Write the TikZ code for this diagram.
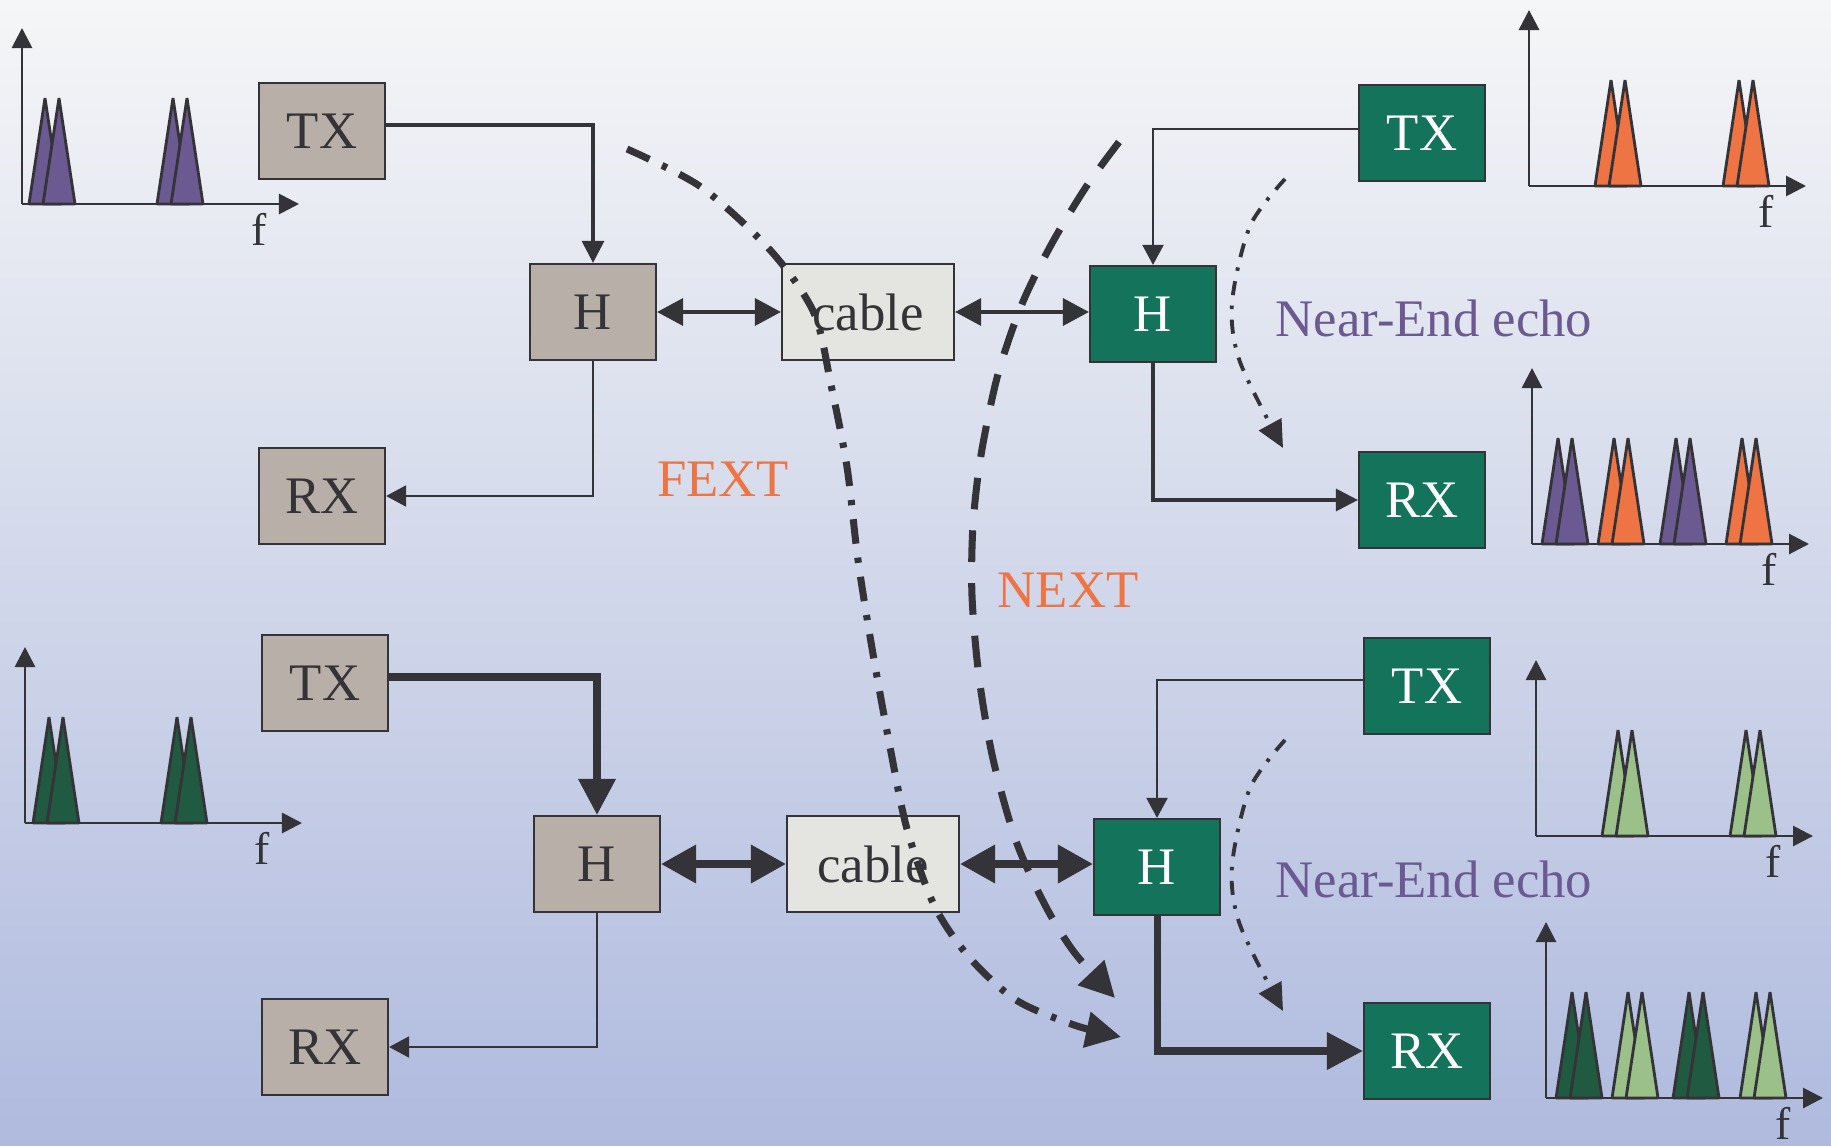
\documentclass[tikz,border=0pt]{standalone}
\usepackage{fontspec}
\setmainfont{Liberation Serif}
\usetikzlibrary{arrows.meta}
\definecolor{ink}{HTML}{333338}
\definecolor{boxgray}{HTML}{B8AFA9}
\definecolor{boxcable}{HTML}{E4E5E0}
\definecolor{boxgreen}{HTML}{14735B}
\definecolor{peakpurple}{HTML}{6A5A91}
\definecolor{peakorange}{HTML}{EE7444}
\definecolor{peakdark}{HTML}{1F5A41}
\definecolor{peaklight}{HTML}{9BC08A}
\definecolor{bgtop}{HTML}{F5F6F7}
\definecolor{bgmid}{HTML}{D6DCEB}
\definecolor{bgbot}{HTML}{AFBADE}
\tikzstyle{blockbox} = [draw=ink, line width=0.6pt, rectangle,
    minimum width=1.26cm, minimum height=0.96cm, inner sep=0pt,
    font=\fontsize{15}{18}\selectfont]
\tikzstyle{graybox} = [blockbox, fill=boxgray, text=ink]
\tikzstyle{greenbox} = [blockbox, fill=boxgreen, text=white]
\tikzstyle{cablebox} = [blockbox, fill=boxcable, text=ink, minimum width=1.72cm]
\tikzstyle{wire} = [draw=ink, line width=0.6pt, -{Triangle[length=2mm,width=2.1mm]}]
\tikzstyle{wiremid} = [draw=ink, line width=0.9pt, -{Triangle[length=2.2mm,width=2.2mm]}]
\tikzstyle{wireheavy} = [draw=ink, line width=2pt, -{Triangle[length=3.6mm,width=3.6mm]}]
\tikzstyle{link} = [draw=ink, line width=1pt,
    {Triangle[length=2.6mm,width=2.7mm]}-{Triangle[length=2.6mm,width=2.7mm]}]
\tikzstyle{linkheavy} = [draw=ink, line width=2pt,
    {Triangle[length=3.5mm,width=3.7mm]}-{Triangle[length=3.5mm,width=3.7mm]}]
\tikzstyle{fextline} = [draw=ink, line width=2pt,
    dash pattern=on 7pt off 4pt on 1.5pt off 4pt, -{Triangle[length=3.5mm,width=3.5mm]}]
\tikzstyle{nextline} = [draw=ink, line width=2pt,
    dash pattern=on 9pt off 6pt, -{Triangle[length=3.5mm,width=3.5mm]}]
\tikzstyle{echoline} = [draw=ink, line width=1.1pt,
    dash pattern=on 4pt off 3pt on 1pt off 3pt, -{Triangle[length=2.7mm,width=2.5mm]}]
\tikzstyle{xtalk} = [text=peakorange, font=\fontsize{15}{18}\selectfont]
\tikzstyle{echolabel} = [text=peakpurple, font=\fontsize{15}{18}\selectfont]
\tikzstyle{specaxis} = [draw=ink, line width=0.8pt, -{Triangle[length=2mm,width=2mm]}]
\tikzstyle{specpeak} = [draw=ink, line width=0.8pt, line join=bevel]
\tikzstyle{freqlabel} = [text=ink, inner sep=1pt, font=\fontsize{13}{15}\selectfont]
\newcommand{\spectrum}[4]{%
  \foreach \dx/\col in {#4}{
    \filldraw[specpeak, fill=\col] (#2+\dx,#3) -- ++(16,-106) -- ++(16,106) -- cycle;
    \filldraw[specpeak, fill=\col] (#2+\dx+14,#3) -- ++(16,-106) -- ++(16,106) -- cycle;
  }
  \draw[specaxis] (#2,#3) -- ++(0,-176);
  \draw[specaxis] (#2,#3) -- ++(277,0);
  \node[freqlabel] (#1) at (#2+237,#3+25) {f};
}

\begin{document}
\begin{tikzpicture}[x=0.01cm, y=-0.01cm]
\useasboundingbox (0,0) rectangle (1831,1146);
\shade[top color=bgtop, middle color=bgmid, bottom color=bgbot] (0,0) rectangle (1831,1146);

\spectrum{fA}{22}{204}{7/peakpurple, 135/peakpurple}
\spectrum{fB}{1529}{186}{66/peakorange, 194/peakorange}
\spectrum{fC}{1532}{544}{10/peakpurple, 66/peakorange, 128/peakpurple, 194/peakorange}
\spectrum{fD}{25}{823}{8/peakdark, 136/peakdark}
\spectrum{fE}{1536}{836}{66/peaklight, 194/peaklight}
\spectrum{fF}{1546}{1098}{10/peakdark, 66/peaklight, 127/peakdark, 194/peaklight}

\node[graybox] (txA) at (322,131) {TX};
\node[graybox] (hA) at (593,312) {H};
\node[graybox] (rxA) at (322,496) {RX};
\node[cablebox] (cableA) at (868,312) {cable};
\node[greenbox] (hB) at (1153,314) {H};
\node[greenbox] (txB) at (1422,133) {TX};
\node[greenbox] (rxB) at (1422,500) {RX};

\node[graybox] (txC) at (325,683) {TX};
\node[graybox] (hC) at (597,864) {H};
\node[graybox] (rxC) at (325,1047) {RX};
\node[cablebox] (cableC) at (873,864) {cable};
\node[greenbox] (hD) at (1157,867) {H};
\node[greenbox] (txD) at (1427,686) {TX};
\node[greenbox] (rxD) at (1427,1051) {RX};

\draw[wiremid] ([yshift=0.06cm]txA.east) -| (hA.north);
\draw[wire] (hA.south) |- (rxA.east);
\draw[link] (hA.east) -- (cableA.west);
\draw[link] (cableA.east) -- (cableA.east -| hB.west);
\draw[wire] ([yshift=0.04cm]txB.west) -| (hB.north);
\draw[wiremid] (hB.south) |- (rxB.west);

\draw[wireheavy] ([yshift=0.06cm]txC.east) -| (hC.north);
\draw[wire] (hC.south) |- (rxC.east);
\draw[linkheavy] (hC.east) -- (cableC.west);
\draw[linkheavy] (cableC.east) -- (cableC.east -| hD.west);
\draw[wire] ([yshift=0.06cm]txD.west) -| (hD.north);
\draw[wireheavy] (hD.south) |- (rxD.west);

\coordinate (fextS) at (627,149);
\coordinate (fextE) at (1121,1037);
\coordinate (nextS) at (1119,142);
\coordinate (nextE) at (1115,998);
\coordinate (echoAS) at (1285,179);
\coordinate (echoAE) at (1283,448);
\coordinate (echoBS) at (1285,740);
\coordinate (echoBE) at (1283,1011);

\draw[fextline] plot[smooth] coordinates {(fextS) (701,187) (771,251) (814,313)
    (831,385) (847,467) (858,560) (873,654) (890,747) (907,829) (934,905)
    (969,957) (1016,1000) (1074,1025) (fextE)};
\draw[nextline] plot[smooth] coordinates {(nextS) (1086,187) (1051,245) (1022,304)
    (998,374) (981,455) (973,525) (972,596) (979,677) (993,759) (1016,841)
    (1045,905) (1074,952) (nextE)};
\draw[echoline] plot[smooth] coordinates {(echoAS) (1250,226) (1232,303) (1240,362) (echoAE)};
\draw[echoline] plot[smooth] coordinates {(echoBS) (1250,788) (1232,866) (1240,925) (echoBE)};

\node[xtalk] (fext) at (723,479) {FEXT};
\node[xtalk] (next) at (1068,590) {NEXT};
\node[echolabel] (echoA) at (1434,318) {Near-End echo};
\node[echolabel] (echoB) at (1434,879) {Near-End echo};
\end{tikzpicture}
\end{document}
